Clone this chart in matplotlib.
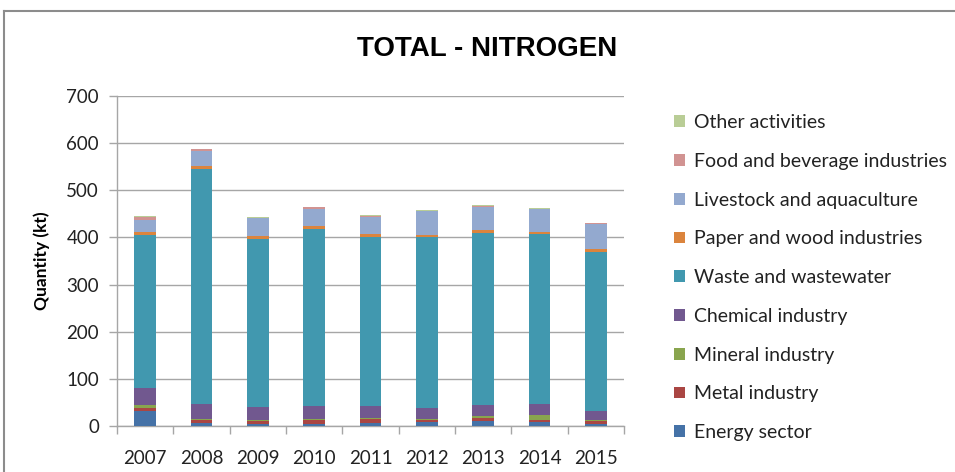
import matplotlib
matplotlib.use("Agg")
import matplotlib.pyplot as plt
from matplotlib.lines import Line2D
import numpy as np

years = ["2007", "2008", "2009", "2010", "2011", "2012", "2013", "2014", "2015"]
energy = [32.5, 5.6, 4, 4, 7, 9, 11.3, 9, 5]
metal = [6.5, 7.4, 6.6, 8.7, 7.8, 3.7, 6.4, 4.4, 6.3]
mineral = [5.5, 1, 2.4, 2.8, 1.2, 2.8, 2.8, 10.6, 1]
chemical = [36.5, 33, 26.6, 27, 26.4, 23.5, 23.3, 22.7, 19]
waste = [324, 498, 357, 375.5, 357.6, 361, 365, 360, 337]
paper = [7, 7, 6, 6, 7, 4.5, 7, 5, 7]
livestock = [26, 32, 38, 37, 37, 51.5, 49, 48, 53.5]
food = [6, 3, 1.5, 3, 2, 1, 1, 1, 2]
other = [2, 1.5, 1, 1.5, 1.5, 1.5, 2, 1.5, 0.5]

series_names = ["Energy sector", "Metal industry", "Mineral industry", "Chemical industry",
                "Waste and wastewater", "Paper and wood industries", "Livestock and aquaculture",
                "Food and beverage industries", "Other activities"]
series_vals = [energy, metal, mineral, chemical, waste, paper, livestock, food, other]
colors = ["#4572A7", "#AA4643", "#89A54E", "#71588F", "#4198AF", "#DB843D",
          "#93A9CF", "#D19392", "#B9CD96"]

FONT = ["Lato", "DejaVu Sans"]
plt.rcParams["font.family"] = FONT

fig = plt.figure(figsize=(9.55, 4.72), dpi=100)
ax = fig.add_axes([117/955, 1-426/472, (624-117)/955, (426-96)/472])

x = np.arange(len(years))
bottom = np.zeros(len(years))
handles = []
for name, vals, c in zip(series_names, series_vals, colors):
    v = np.array(vals, dtype=float)
    b = ax.bar(x, v, bottom=bottom, width=0.39, color=c, label=name, zorder=3)
    handles.append(b)
    bottom += v

ax.set_xlim(-0.5, len(years) - 0.5)
ax.set_ylim(0, 700)
ax.set_yticks(np.arange(0, 701, 100))
ax.yaxis.grid(True, color="#A6A6A6", linewidth=1.0, zorder=0)
ax.set_axisbelow(True)
for s in ["top", "right"]:
    ax.spines[s].set_visible(False)
for s in ["left", "bottom"]:
    ax.spines[s].set_color("#A6A6A6")
    ax.spines[s].set_linewidth(1.0)

ax.set_xticks(x)
ax.set_xticklabels(years)
ax.set_xticks(np.arange(-0.5, len(years), 1.0), minor=True)
ax.tick_params(axis="x", which="major", length=0, labelsize=13.5, pad=17)
ax.tick_params(axis="x", which="minor", length=6, color="#A6A6A6", width=1)
ax.tick_params(axis="y", length=6, color="#A6A6A6", width=1, labelsize=13.5, pad=7)
for lab in ax.get_yticklabels() + ax.get_xticklabels():
    lab.set_color("#222222")

ax.set_ylabel("Quantity (kt)", fontsize=12.5, fontweight="bold", labelpad=12)

fig.text(487/955, 1-49/472, "TOTAL - NITROGEN", fontsize=20, fontweight="bold",
         ha="center", va="center", family=["Liberation Sans Narrow", "Liberation Sans", "DejaVu Sans"])

leg = fig.legend(handles[::-1], series_names[::-1], loc="upper left",
                 bbox_to_anchor=(674/955, 1-114/472), frameon=False, fontsize=14,
                 handlelength=0.55, handleheight=0.55, handletextpad=0.5,
                 labelspacing=1.12, borderaxespad=0, borderpad=0)
for t in leg.get_texts():
    t.set_color("#222222")

# outer chart border (top & left visible)
fig.add_artist(Line2D([4/955, 4/955], [0, 1-11/472], transform=fig.transFigure, color="#8C8C8C", linewidth=1.5))
fig.add_artist(Line2D([4/955, 1], [1-11/472, 1-11/472], transform=fig.transFigure, color="#8C8C8C", linewidth=1.5))

fig.savefig("out.png", dpi=100)
